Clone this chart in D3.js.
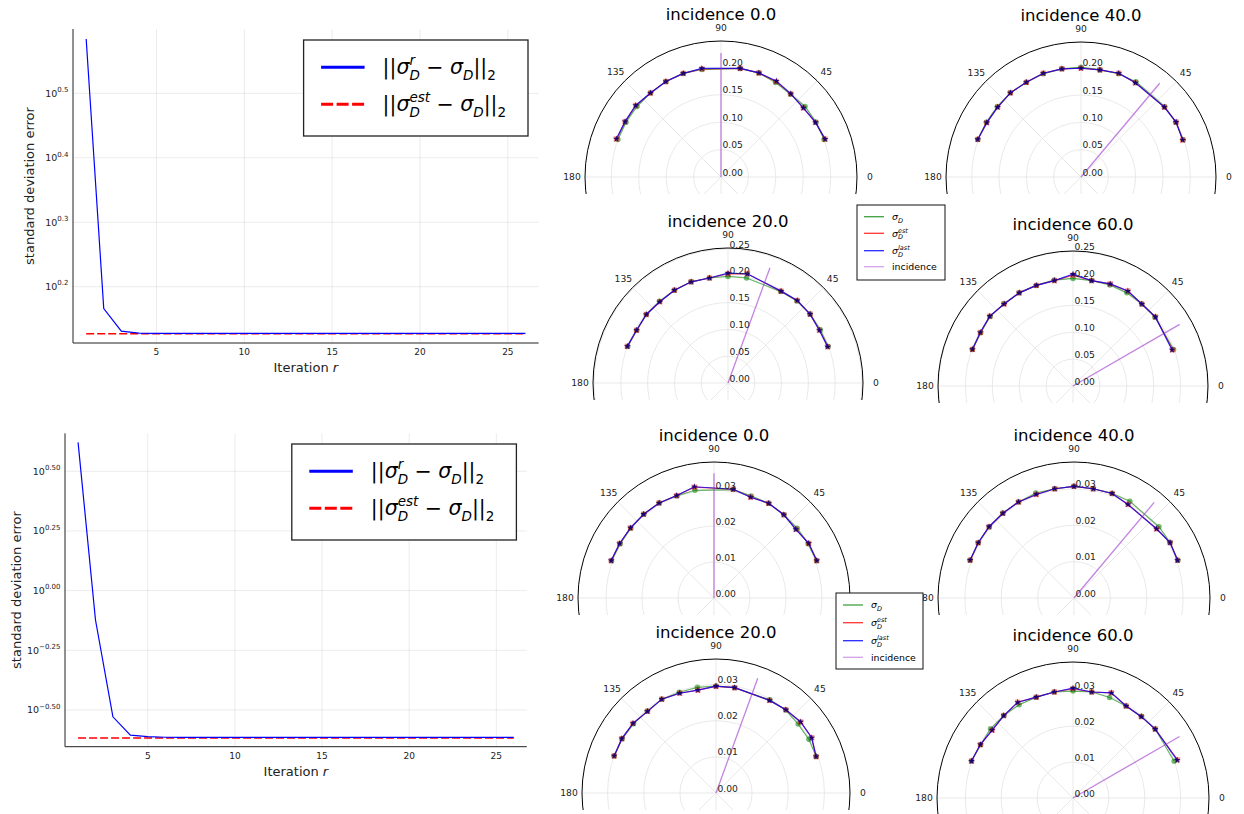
<!DOCTYPE html>
<html><head><meta charset="utf-8">
<script src="https://cdn.jsdelivr.net/npm/d3@7"></script>
<style>
body{margin:0;background:#fff;}
svg{display:block;font-family:"DejaVu Sans",sans-serif;}
</style></head><body>
<svg id="c" width="1244" height="814"></svg>
<script>
// ---------------- DATA ----------------
const iterations = [1,2,3,4,5,6,7,8,9,10,11,12,13,14,15,16,17,18,19,20,21,22,23,24,25,26];
const errTopR   = [3.84,1.466,1.352,1.343,1.341,1.341,1.341,1.341,1.341,1.341,1.341,1.341,1.341,1.341,1.341,1.341,1.341,1.341,1.341,1.341,1.341,1.341,1.341,1.341,1.341,1.341];
const errTopEst = [1.3395,1.3395,1.3395,1.3395,1.3395,1.3395,1.3395,1.3395,1.3395,1.3395,1.3395,1.3395,1.3395,1.3395,1.3395,1.3395,1.3395,1.3395,1.3395,1.3395,1.3395,1.3395,1.3395,1.3395,1.3395,1.3395];
const errBotR   = [4.18,0.753,0.296,0.248,0.2443,0.2430,0.2427,0.2427,0.2427,0.2427,0.2427,0.2427,0.2427,0.2427,0.2427,0.2427,0.2427,0.2427,0.2427,0.2427,0.2427,0.2427,0.2427,0.2427,0.2427,0.2427];
const errBotEst = [0.2415,0.2415,0.2415,0.2415,0.2415,0.2415,0.2415,0.2415,0.2415,0.2415,0.2415,0.2415,0.2415,0.2415,0.2415,0.2415,0.2415,0.2415,0.2415,0.2415,0.2415,0.2415,0.2415,0.2415,0.2415,0.2415];

const xTicks = [5,10,15,20,25];
const yExpTop = [0.2,0.3,0.4,0.5];
const yExpTopLabels = ["0.2","0.3","0.4","0.5"];
const yExpBot = [-0.5,-0.25,0,0.25,0.5];
const yExpBotLabels = ["\u22120.50","\u22120.25","0.00","0.25","0.50"];

const incidences = [0,20,40,60];
const angles = [
  [20,30,40,50,60,70,80,100,110,120,130,140,150,160],
  [20,30,40,50,60,80,90,100,110,120,130,140,150,160],
  [20,30,40,60,70,80,90,100,110,120,130,140,150,160],
  [20,40,50,60,70,80,90,100,110,120,130,140,150,160]];

const sigD_top = [
  [0.200,0.200,0.200,0.197,0.199,0.202,0.201,0.199,0.201,0.201,0.200,0.200,0.200,0.200],
  [0.199,0.199,0.200,0.200,0.197,0.199,0.199,0.199,0.201,0.200,0.199,0.199,0.197,0.199],
  [0.199,0.200,0.200,0.201,0.201,0.199,0.201,0.201,0.201,0.200,0.201,0.200,0.200,0.201],
  [0.199,0.199,0.199,0.200,0.200,0.199,0.200,0.200,0.199,0.200,0.200,0.201,0.198,0.199]];
const sigEst_top = [
  [0.202,0.199,0.196,0.198,0.201,0.202,0.201,0.200,0.201,0.201,0.200,0.203,0.202,0.203],
  [0.198,0.197,0.200,0.201,0.198,0.207,0.204,0.199,0.201,0.200,0.198,0.199,0.197,0.200],
  [0.198,0.201,0.199,0.199,0.202,0.199,0.199,0.201,0.202,0.200,0.201,0.199,0.199,0.201],
  [0.197,0.200,0.199,0.204,0.202,0.199,0.206,0.199,0.199,0.200,0.199,0.202,0.199,0.199]];
const sigLast_top = [
  [0.202,0.199,0.196,0.198,0.202,0.202,0.201,0.201,0.201,0.201,0.200,0.203,0.202,0.203],
  [0.198,0.197,0.200,0.201,0.198,0.207,0.205,0.199,0.201,0.200,0.198,0.199,0.197,0.200],
  [0.198,0.201,0.199,0.199,0.202,0.199,0.199,0.201,0.202,0.200,0.201,0.199,0.199,0.201],
  [0.196,0.200,0.199,0.204,0.202,0.199,0.208,0.199,0.199,0.200,0.199,0.202,0.199,0.199]];
const incLen_top = [0.226,0.229,0.224,0.229];

const sigD_bot = [
  [0.0303,0.0302,0.0302,0.0302,0.0304,0.0302,0.0306,0.0304,0.0302,0.0305,0.0304,0.0302,0.0301,0.0303],
  [0.0295,0.0297,0.0297,0.0300,0.0298,0.0296,0.0296,0.0297,0.0297,0.0300,0.0296,0.0298,0.0300,0.0300],
  [0.0304,0.0305,0.0305,0.0307,0.0306,0.0305,0.0307,0.0305,0.0307,0.0305,0.0305,0.0304,0.0304,0.0304],
  [0.0300,0.0299,0.0297,0.0296,0.0298,0.0300,0.0298,0.0300,0.0299,0.0300,0.0300,0.0300,0.0297,0.0301]];
const sigEst_bot = [
  [0.0304,0.0304,0.0297,0.0302,0.0304,0.0298,0.0307,0.0313,0.0303,0.0305,0.0304,0.0303,0.0303,0.0304],
  [0.0295,0.0306,0.0306,0.0301,0.0296,0.0296,0.0295,0.0289,0.0294,0.0300,0.0295,0.0300,0.0301,0.0300],
  [0.0303,0.0305,0.0296,0.0297,0.0306,0.0305,0.0307,0.0305,0.0303,0.0305,0.0304,0.0305,0.0304,0.0304],
  [0.0310,0.0299,0.0296,0.0296,0.0312,0.0300,0.0305,0.0300,0.0299,0.0308,0.0300,0.0294,0.0298,0.0301]];
const sigLast_bot = [
  [0.0304,0.0304,0.0297,0.0302,0.0304,0.0298,0.0307,0.0314,0.0303,0.0305,0.0304,0.0303,0.0303,0.0304],
  [0.0295,0.0306,0.0306,0.0301,0.0296,0.0296,0.0296,0.0289,0.0294,0.0300,0.0295,0.0300,0.0301,0.0300],
  [0.0303,0.0305,0.0296,0.0297,0.0306,0.0305,0.0307,0.0305,0.0303,0.0305,0.0304,0.0305,0.0304,0.0304],
  [0.0309,0.0299,0.0296,0.0296,0.0312,0.0300,0.0306,0.0300,0.0299,0.0308,0.0300,0.0294,0.0298,0.0301]];
const incLen_bot = [0.0347,0.0338,0.0343,0.0343];

const rTicksTop = [0,0.05,0.10,0.15,0.20,0.25];
const rTicksBot = [0,0.01,0.02,0.03];
const angleTicks = [0,45,90,135,180];

// ---------------- DRAWING ----------------
const svg = d3.select('#c');
svg.append('rect').attr('width',1244).attr('height',814).attr('fill','#fff');
const defs = svg.append('defs');

function richText(g, x, y, parts, anchor){
  const grp = g.append('g');
  let cx = 0;
  parts.forEach(p=>{
    const items = p.stack || [p];
    let w = 0;
    items.forEach(q=>{
      const t = grp.append('text').attr('x',cx).attr('y',q.dy||0)
        .attr('font-size',q.size).attr('font-style',q.it?'italic':'normal')
        .attr('fill',q.fill||'#000').style('white-space','pre').text(q.t);
      w = Math.max(w, t.node().getComputedTextLength());
    });
    cx += w + (p.gap||0);
  });
  let ox = x;
  if(anchor==='end') ox = x - cx; else if(anchor==='middle') ox = x - cx/2;
  grp.attr('transform',`translate(${ox},${y})`);
  return grp;
}

function lineChart(o){
  const x = d3.scaleLinear([0.25,26.75],[o.x0,o.x1]);
  const y = d3.scaleLog([Math.pow(10,o.lo),Math.pow(10,o.hi)],[o.y1,o.y0]);
  const g = svg.append('g');
  g.selectAll(null).data(xTicks).join('line')
    .attr('x1',d=>x(d)).attr('x2',d=>x(d)).attr('y1',o.y0).attr('y2',o.y1)
    .attr('stroke','#000').attr('stroke-opacity',0.1).attr('stroke-width',0.8);
  g.selectAll(null).data(o.yExp).join('line')
    .attr('x1',o.x0).attr('x2',o.x1).attr('y1',d=>y(Math.pow(10,d))).attr('y2',d=>y(Math.pow(10,d)))
    .attr('stroke','#000').attr('stroke-opacity',0.1).attr('stroke-width',0.8);
  g.append('line').attr('x1',o.x0).attr('x2',o.x0).attr('y1',o.y0).attr('y2',o.y1).attr('stroke','#222').attr('stroke-width',1);
  g.append('line').attr('x1',o.x0).attr('x2',o.x1).attr('y1',o.y1).attr('y2',o.y1).attr('stroke','#222').attr('stroke-width',1);
  g.selectAll(null).data(xTicks).join('text')
    .attr('x',d=>x(d)).attr('y',o.y1+12).attr('text-anchor','middle').attr('font-size',9).attr('fill','#222').text(d=>d);
  o.yExp.forEach((e,i)=>{
    richText(g, o.x0-4.5, y(Math.pow(10,e))+3.3, [{t:'10',size:9.5,fill:'#222'},{t:o.yLab[i],size:7,dy:-4.5,fill:'#222'}],'end');
  });
  const line = d3.line().x((d,i)=>x(iterations[i])).y(d=>y(d));
  g.append('path').datum(o.est).attr('d',line).attr('fill','none').attr('stroke','red').attr('stroke-width',1.5).attr('stroke-dasharray','8,3');
  g.append('path').datum(o.err).attr('d',line).attr('fill','none').attr('stroke','blue').attr('stroke-width',1.2);
  richText(g, (o.x0+o.x1)/2, o.y1+29, [{t:'Iteration\u00A0',size:13,fill:'#222'},{t:'r',size:13,it:true,fill:'#222'}],'middle');
  g.append('text').attr('transform',`translate(${o.ylabX},${(o.y0+o.y1)/2}) rotate(-90)`)
    .attr('text-anchor','middle').attr('font-size',13).attr('fill','#222').text('standard deviation error');
  // legend
  const L = o.leg;
  g.append('rect').attr('x',L.x).attr('y',L.y).attr('width',L.w).attr('height',L.h)
    .attr('fill','#fff').attr('stroke','#222').attr('stroke-width',1.3);
  const e1 = L.y+27.3, e2 = L.y+64.3;
  g.append('line').attr('x1',L.x+17.5).attr('x2',L.x+61).attr('y1',e1).attr('y2',e1).attr('stroke','blue').attr('stroke-width',3);
  g.append('line').attr('x1',L.x+17.5).attr('x2',L.x+61).attr('y1',e2).attr('y2',e2).attr('stroke','red').attr('stroke-width',3).attr('stroke-dasharray','12,3.5');
  const S=20.5, s=13.5;
  const mk = sup => [{t:'||',size:S},{t:'\u03C3',size:S,it:true},
     {stack:[{t:sup,size:s,it:true,dy:-9},{t:'D',size:s,it:true,dy:6}]},
     {t:'\u00A0\u2212\u00A0',size:S},{t:'\u03C3',size:S,it:true},{t:'D',size:s,it:true,dy:6},
     {t:'||',size:S},{t:'2',size:s,dy:6}];
  richText(g, L.x+79, e1+7, mk('r'));
  richText(g, L.x+79, e2+7, mk('est'));
}

lineChart({x0:73,x1:538.6,y0:29,y1:343,lo:0.1126,hi:0.5998,yExp:yExpTop,yLab:yExpTopLabels,
  err:errTopR,est:errTopEst,ylabX:33.5,leg:{x:303.6,y:40,w:224.4,h:96}});
lineChart({x0:65,x1:526.8,y0:433.3,y1:746.7,lo:-0.654,hi:0.659,yExp:yExpBot,yLab:yExpBotLabels,
  err:errBotR,est:errBotEst,ylabX:21,leg:{x:291.8,y:444,w:224.6,h:96}});

// ---------------- POLAR ----------------
const seriesStyle = [
  {stroke:'#008000',lop:0.6,sym:d3.symbolCircle,size:24,fill:'#008000',fop:0.55},
  {stroke:'#ff0000',lop:0.7,sym:d3.symbolSquare,size:28,fill:'#ff0000',fop:0.45},
  {stroke:'#0000ff',lop:0.8,sym:d3.symbolStar,size:14,fill:'#14006e',fop:0.95}];
const incColor = '#9932cc';
const deg = Math.PI/180;
let clipN = 0;

function polar(p){
  const rs = d3.scaleLinear([0,p.rmax],[0,p.R]);
  const g = svg.append('g').attr('transform',`translate(${p.cx},${p.cy})`);
  const id = 'clip'+(clipN++);
  defs.append('clipPath').attr('id',id).append('rect')
    .attr('x',-p.R-5).attr('y',-p.R-5).attr('width',2*p.R+10).attr('height',p.R+5+17);
  const gc = g.append('g').attr('clip-path',`url(#${id})`);
  gc.selectAll(null).data(p.ticks.filter(t=>t>0 && t<p.rmax)).join('circle')
    .attr('r',d=>rs(d)).attr('fill','none').attr('stroke','#e3e3e3').attr('stroke-width',0.8);
  gc.selectAll(null).data([0,45,90,135,180,225,270,315]).join('line')
    .attr('x1',0).attr('y1',0)
    .attr('x2',d=>d3.pointRadial((90-d)*deg,p.R)[0])
    .attr('y2',d=>d3.pointRadial((90-d)*deg,p.R)[1])
    .attr('stroke','#e3e3e3').attr('stroke-width',0.8);
  gc.append('circle').attr('r',p.R).attr('fill','none').attr('stroke','#000').attr('stroke-width',1);
  // angle labels
  g.selectAll(null).data(angleTicks).join('text')
    .attr('x',d=>d3.pointRadial((90-d)*deg,p.R+13)[0])
    .attr('y',d=>d3.pointRadial((90-d)*deg,p.R+13)[1]+3.3)
    .attr('text-anchor','middle').attr('font-size',9.2).attr('fill','#222').text(d=>d);
  // title
  g.append('text').attr('x',0).attr('y',-p.R-21).attr('text-anchor','middle')
    .attr('font-size',16.5).attr('fill','#000').text('incidence '+p.inc.toFixed(1));
  // series
  const rl = d3.lineRadial().angle(d=>(90-d[0])*deg).radius(d=>rs(d[1]));
  [p.sD,p.sE,p.sL].forEach((vals,k)=>{
    const st = seriesStyle[k];
    const pts = p.ang.map((a,i)=>[a,vals[i]]);
    g.append('path').datum(pts).attr('d',rl).attr('fill','none')
      .attr('stroke',st.stroke).attr('stroke-opacity',st.lop).attr('stroke-width',1.2);
    g.selectAll(null).data(pts).join('path')
      .attr('transform',d=>{const q=d3.pointRadial((90-d[0])*deg,rs(d[1]));return `translate(${q[0]},${q[1]})`;})
      .attr('d',d3.symbol(st.sym,st.size)).attr('fill',st.fill).attr('fill-opacity',st.fop);
  });
  // incidence line: direction at polar angle (90 - incidence)
  const theta = 90 - p.inc;
  const end = d3.pointRadial((90-theta)*deg, rs(p.incLen));
  g.append('line').attr('x1',0).attr('y1',0).attr('x2',end[0]).attr('y2',end[1])
    .attr('stroke',incColor).attr('stroke-opacity',0.6).attr('stroke-width',1.3);
  // radial labels
  g.selectAll(null).data(p.ticks.filter(t=>t<=p.rmax)).join('text')
    .attr('x',1.5).attr('y',d=>-rs(d)-1.5).attr('font-size',9.2).attr('fill','#222').text(d=>d.toFixed(2));
}

const topLayout = [{cx:721,cy:177,R:136,rmax:0.248},{cx:728,cy:383,R:135,rmax:0.252},{cx:1081,cy:177,R:135,rmax:0.247},{cx:1073,cy:386,R:135,rmax:0.251}];
const botLayout = [{cx:714,cy:598,R:136,rmax:0.0378},{cx:716,cy:793,R:134,rmax:0.0371},{cx:1074,cy:598,R:136,rmax:0.0374},{cx:1073,cy:798,R:136,rmax:0.0379}];

function polarLegend(L){
  const g = svg.append('g');
  g.append('rect').attr('x',L.x).attr('y',L.y).attr('width',L.w).attr('height',L.h)
    .attr('fill','#fff').attr('stroke','#111').attr('stroke-width',1);
  const cols = [['#008000',0.75],['#ff0000',0.8],['#0000ff',0.85],[incColor,0.45]];
  const fs=9.4, ss=6.5;
  const texts = [
    [{t:'\u03C3',size:fs,it:true},{t:'D',size:ss,it:true,dy:2.5}],
    [{t:'\u03C3',size:fs,it:true},{stack:[{t:'est',size:ss,it:true,dy:-4},{t:'D',size:ss,it:true,dy:2.5}]}],
    [{t:'\u03C3',size:fs,it:true},{stack:[{t:'last',size:ss,it:true,dy:-4},{t:'D',size:ss,it:true,dy:2.5}]}],
    [{t:'incidence',size:fs}]];
  L.ys.forEach((yy,i)=>{
    g.append('line').attr('x1',L.x+7).attr('x2',L.x+27).attr('y1',yy).attr('y2',yy)
      .attr('stroke',cols[i][0]).attr('stroke-opacity',cols[i][1]).attr('stroke-width',1.3);
    richText(g, L.x+35, yy+3.3, texts[i]);
  });
}

incidences.forEach((inc,i)=>{
  polar(Object.assign({}, topLayout[i], {inc, ang:angles[i], sD:sigD_top[i], sE:sigEst_top[i], sL:sigLast_top[i], incLen:incLen_top[i], ticks:rTicksTop}));
});
polarLegend({x:857,y:205,w:88,h:75,ys:[216.7,233.3,250.7,266.7]});
incidences.forEach((inc,i)=>{
  polar(Object.assign({}, botLayout[i], {inc, ang:angles[i], sD:sigD_bot[i], sE:sigEst_bot[i], sL:sigLast_bot[i], incLen:incLen_bot[i], ticks:rTicksBot}));
});
polarLegend({x:836,y:593,w:87,h:76,ys:[605,622.7,640.7,657.3]});
</script>
</body></html>
